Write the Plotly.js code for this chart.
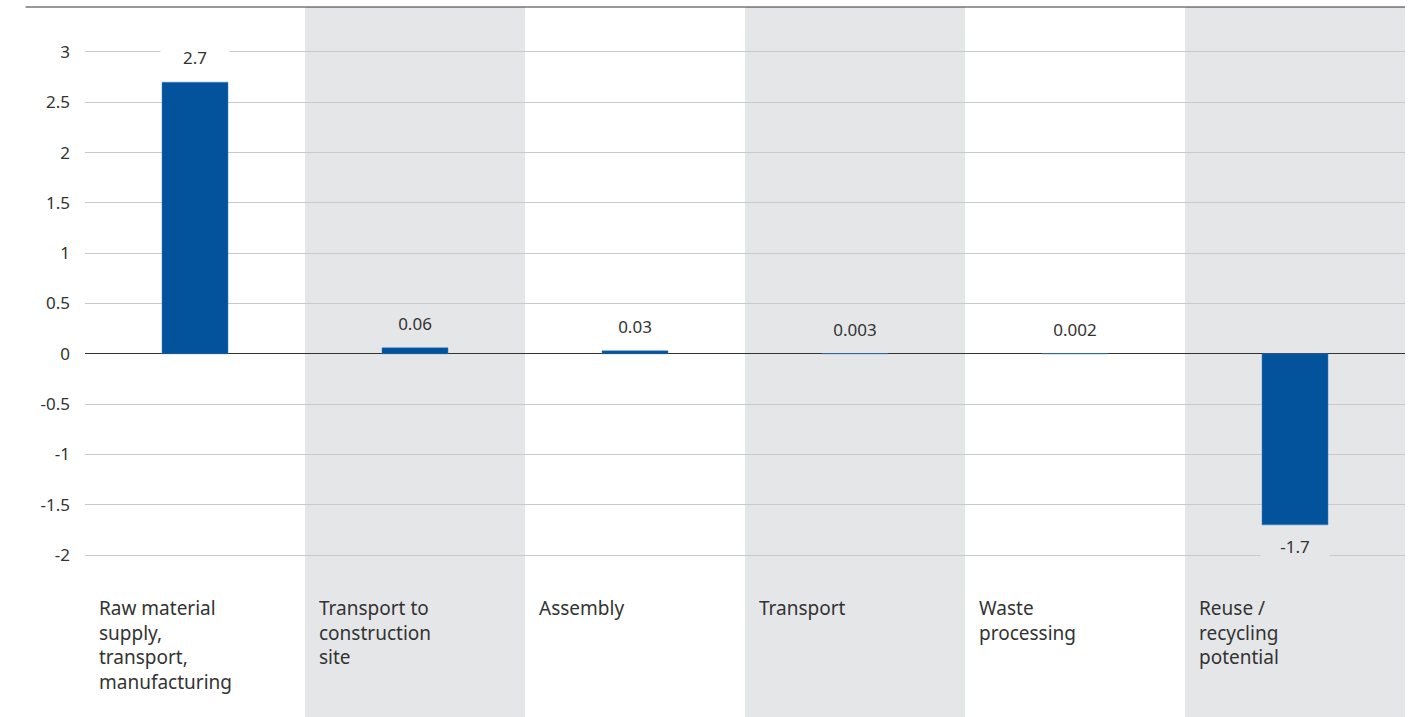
<!DOCTYPE html>
<html>
<head>
<meta charset="utf-8">
<script src="https://cdn.plot.ly/plotly-3.0.1.min.js"></script>
<style>html,body{margin:0;padding:0;background:#fff;}#chart{width:1415px;height:717px;}</style>
</head>
<body>
<div id="chart"></div>
<script>
const categories = [
  "Raw material<br>supply,<br>transport,<br>manufacturing",
  "Transport to<br>construction<br>site",
  "Assembly",
  "Transport",
  "Waste<br>processing",
  "Reuse /<br>recycling<br>potential"
];
const values = [2.7, 0.06, 0.03, 0.003, 0.002, -1.7];
const valueLabels = ["2.7", "0.06", "0.03", "0.003", "0.002", "-1.7"];
const yTicks = [-2, -1.5, -1, -0.5, 0, 0.5, 1, 1.5, 2, 2.5, 3];
const yTickText = ["-2", "-1.5", "-1", "-0.5", "0", "0.5", "1", "1.5", "2", "2.5", "3"];

const xs = categories.map((_, i) => i);
const barColor = "#02529c";
const bandColor = "#e5e6e8";
const textColor = "#333333";
const FONT = "Noto Sans, sans-serif";

const shapes = [];
xs.forEach(i => {
  if (i % 2 === 1) {
    shapes.push({type: "rect", xref: "x", yref: "paper", x0: i - 0.5, x1: i + 0.5, y0: 0, y1: 1,
      fillcolor: bandColor, line: {width: 0}, layer: "below"});
  }
});
shapes.push({type: "line", xref: "paper", yref: "paper", x0: -0.045, x1: 1, y0: 1, y1: 1,
  line: {color: "#333333", width: 1}});

const annotations = [];
xs.forEach(i => {
  const v = values[i];
  annotations.push({
    x: i, y: v, xref: "x", yref: "y",
    text: valueLabels[i], showarrow: false,
    xanchor: "center", yanchor: v >= 0 ? "bottom" : "top",
    yshift: v >= 0 ? 12 : -8,
    width: 66, height: 22,
    bgcolor: i % 2 === 1 ? bandColor : "#ffffff",
    font: {family: FONT, size: 17, color: textColor}
  });
  annotations.push({
    x: i - 0.445, xref: "x", y: 0.174, yref: "paper",
    text: categories[i], showarrow: false, align: "left",
    xanchor: "left", yanchor: "top",
    font: {family: FONT, size: 19, color: textColor}
  });
});

const trace = {
  type: "bar", x: xs, y: values, width: 0.3,
  marker: {color: barColor, line: {color: "#3f7fc0", width: 0.5}},
  hoverinfo: "skip"
};

const layout = {
  width: 1415, height: 717,
  margin: {l: 85, r: 10, t: 7, b: 0},
  paper_bgcolor: "#ffffff", plot_bgcolor: "rgba(0,0,0,0)",
  showlegend: false,
  bargap: 0,
  xaxis: {range: [-0.5, 5.5], showgrid: false, zeroline: false, showticklabels: false, ticks: "", fixedrange: true},
  yaxis: {range: [-3.61, 3.447], tickvals: yTicks, ticktext: yTickText,
    showgrid: true, gridcolor: "#c9c9c9", gridwidth: 1,
    zeroline: true, zerolinecolor: "#333333", zerolinewidth: 1,
    ticks: "", ticklabelstandoff: 14,
    tickfont: {family: FONT, size: 17, color: textColor}, fixedrange: true},
  shapes: shapes,
  annotations: annotations
};

Plotly.newPlot("chart", [trace], layout, {displayModeBar: false, staticPlot: true});
</script>
</body>
</html>
